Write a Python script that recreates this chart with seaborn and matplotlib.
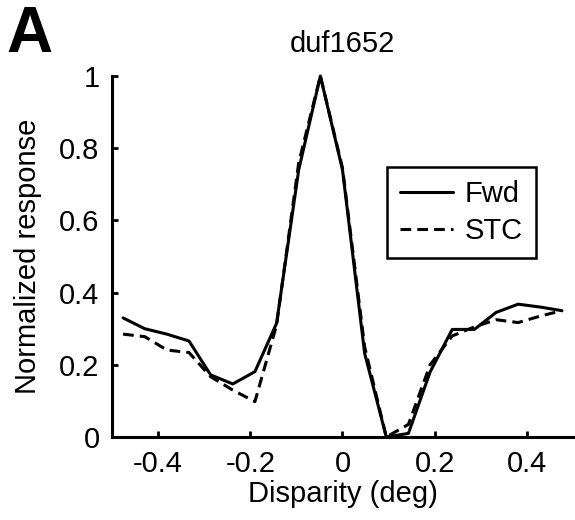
import matplotlib
matplotlib.use("Agg")
import matplotlib.pyplot as plt
import seaborn as sns
import pandas as pd

# Disparité (deg) et réponses normalisées
disparity = [-0.476, -0.429, -0.381, -0.333, -0.286, -0.238, -0.190, -0.143, -0.095, -0.048,
             0.0, 0.048, 0.095, 0.143, 0.190, 0.238, 0.286, 0.333, 0.381, 0.429, 0.476]
fwd = [0.33, 0.30, 0.285, 0.266, 0.172, 0.147, 0.181, 0.315, 0.74, 1.0,
       0.74, 0.232, 0.0, 0.01, 0.18, 0.298, 0.298, 0.345, 0.368, 0.36, 0.35]
stc = [0.285, 0.278, 0.241, 0.234, 0.167, 0.13, 0.098, 0.31, 0.76, 1.0,
       0.745, 0.25, 0.0, 0.035, 0.2, 0.28, 0.305, 0.325, 0.317, 0.335, 0.35]
methods = ['Fwd', 'STC']
xticks = [-0.4, -0.2, 0, 0.2, 0.4]
yticks = [0, 0.2, 0.4, 0.6, 0.8, 1]

df = pd.DataFrame({
    'Disparity': disparity * 2,
    'Response': fwd + stc,
    'method': ['Fwd'] * len(fwd) + ['STC'] * len(stc),
})

sns.set_theme(style="ticks")
plt.rcParams['font.family'] = ['Liberation Sans', 'DejaVu Sans']
plt.rcParams['text.color'] = 'black'
plt.rcParams['axes.labelcolor'] = 'black'
plt.rcParams['xtick.color'] = 'black'
plt.rcParams['ytick.color'] = 'black'

fig = plt.figure(figsize=(5.75, 5.2), dpi=100)
ax = fig.add_axes([0.1948, 0.1596, 0.8017, 0.6942])

sns.lineplot(data=df, x='Disparity', y='Response', hue='method', style='method',
             palette=['black', 'black'], dashes={'Fwd': '', 'STC': (3.5, 2)},
             linewidth=2.2, ax=ax, legend=True)
for ln in ax.lines:
    ln.set_clip_on(False)

ax.set_xlim(-0.5, 0.5)
ax.set_ylim(0, 1)
ax.set_xticks(xticks)
ax.set_xticklabels(['-0.4', '-0.2', '0', '0.2', '0.4'])
ax.set_yticks(yticks)
ax.set_yticklabels(['0', '0.2', '0.4', '0.6', '0.8', '1'])
ax.tick_params(labelsize=21, width=2, length=4, color='black', labelcolor='black',
               direction='in', pad=9)
for s in ['top', 'right']:
    ax.spines[s].set_visible(False)
for s in ['left', 'bottom']:
    ax.spines[s].set_linewidth(2.2)
    ax.spines[s].set_color('black')

ax.set_xlabel('Disparity (deg)', fontsize=21, labelpad=2, color='black')
ax.set_ylabel('Normalized response', fontsize=21, labelpad=12, color='black')
ax.set_title('duf1652', fontsize=21, pad=17, color='black')

leg = ax.legend(loc='upper left', bbox_to_anchor=(0.597, 0.748), fontsize=21,
                frameon=True, fancybox=False, handlelength=1.8, handletextpad=0.4,
                borderpad=0.45, labelspacing=0.3, borderaxespad=0)
leg.get_frame().set_edgecolor('black')
leg.get_frame().set_linewidth(1.8)
leg.get_frame().set_alpha(1)
for t in leg.get_texts():
    t.set_color('black')
for h in leg.get_lines():
    h.set_linewidth(2.2)

fig.text(0.012, 0.99, 'A', fontsize=46, fontweight='bold', va='top', ha='left', color='black')

fig.savefig('out.png', dpi=100)
